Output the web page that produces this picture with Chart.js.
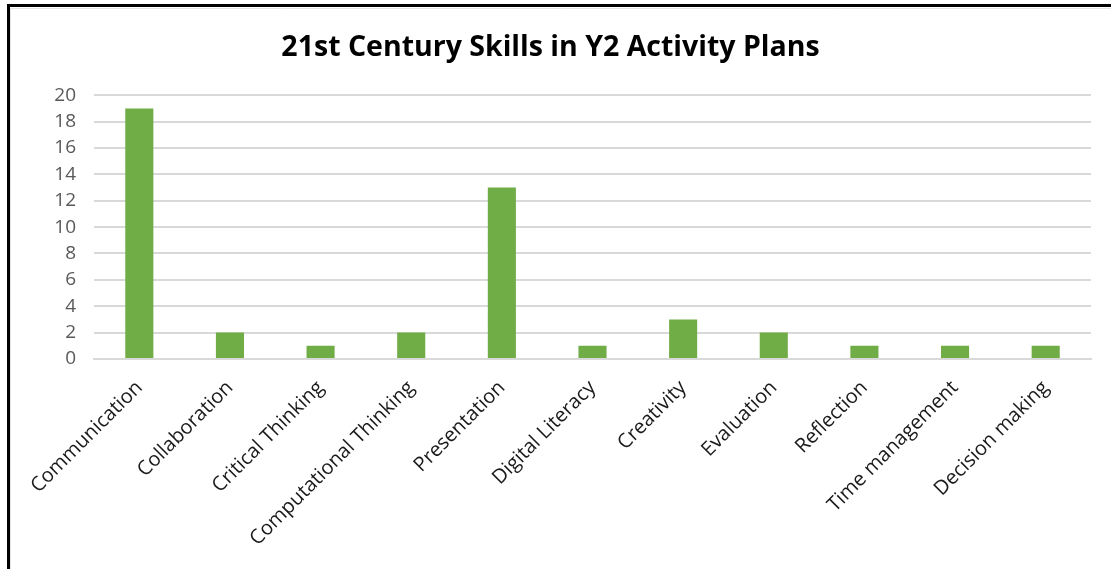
<!DOCTYPE html>
<html>
<head>
<meta charset="utf-8">
<script src="https://cdn.jsdelivr.net/npm/chart.js@4"></script>
<style>
  html, body { margin: 0; padding: 0; background: #fff; }
  #wrap { width: 1111px; height: 569px; position: relative; }
</style>
</head>
<body>
<div id="wrap"><canvas id="grafico" width="1111" height="569"></canvas></div>
<script>
const skills = ['Communication', 'Collaboration', 'Critical Thinking', 'Computational Thinking', 'Presentation',
  'Digital Literacy', 'Creativity', 'Evaluation', 'Reflection', 'Time management', 'Decision making'];
const counts = [19, 2, 1, 2, 13, 1, 3, 2, 1, 1, 1];
const yTicks = [0, 2, 4, 6, 8, 10, 12, 14, 16, 18, 20];

// moldura preta + borda cinza clara, como no print
const moldura = {
  id: 'moldura',
  beforeDraw(chart) {
    const c = chart.ctx;
    c.save();
    c.fillStyle = '#fff';
    c.fillRect(0, 0, chart.width, chart.height);
    c.strokeStyle = '#e3e3e3';
    c.lineWidth = 1;
    c.beginPath();
    c.moveTo(10.5, chart.height);
    c.lineTo(10.5, 8.5);
    c.lineTo(chart.width, 8.5);
    c.stroke();
    c.strokeStyle = '#000';
    c.lineWidth = 3;
    c.beginPath();
    c.moveTo(8.5, chart.height);
    c.lineTo(8.5, 5.5);
    c.lineTo(chart.width, 5.5);
    c.stroke();
    c.restore();
  }
};

new Chart(document.getElementById('grafico'), {
  type: 'bar',
  data: {
    labels: skills,
    datasets: [{
      data: counts,
      backgroundColor: '#70AD47',
      barPercentage: 0.31,
      categoryPercentage: 1
    }]
  },
  options: {
    responsive: false,
    animation: false,
    layout: { padding: { left: 10, right: 20, top: 20, bottom: 0 } },
    plugins: {
      legend: { display: false },
      tooltip: { enabled: false },
      title: {
        display: true,
        text: '21st Century Skills in Y2 Activity Plans',
        color: '#000',
        font: { family: 'Open Sans', size: 28.5, weight: 'bold' },
        padding: { top: 11, bottom: 30 }
      }
    },
    scales: {
      x: {
        grid: { display: false, drawTicks: false },
        border: { color: '#d9d9d9', width: 2 },
        ticks: {
          color: '#1a1a1a',
          font: { family: 'Open Sans', size: 20 },
          maxRotation: 45,
          minRotation: 45,
          padding: 17,
          autoSkip: false
        },
        afterFit(scale) { scale.height = 210; }
      },
      y: {
        min: 0,
        max: 20,
        afterBuildTicks(scale) { scale.ticks = yTicks.map(v => ({ value: v })); },
        grid: { color: '#d9d9d9', lineWidth: 2, drawTicks: false },
        border: { display: false },
        ticks: {
          color: '#595959',
          font: { family: 'Open Sans', size: 19 },
          padding: 18
        },
        afterFit(scale) { scale.width = 84; }
      }
    }
  },
  plugins: [moldura]
});
</script>
</body>
</html>
